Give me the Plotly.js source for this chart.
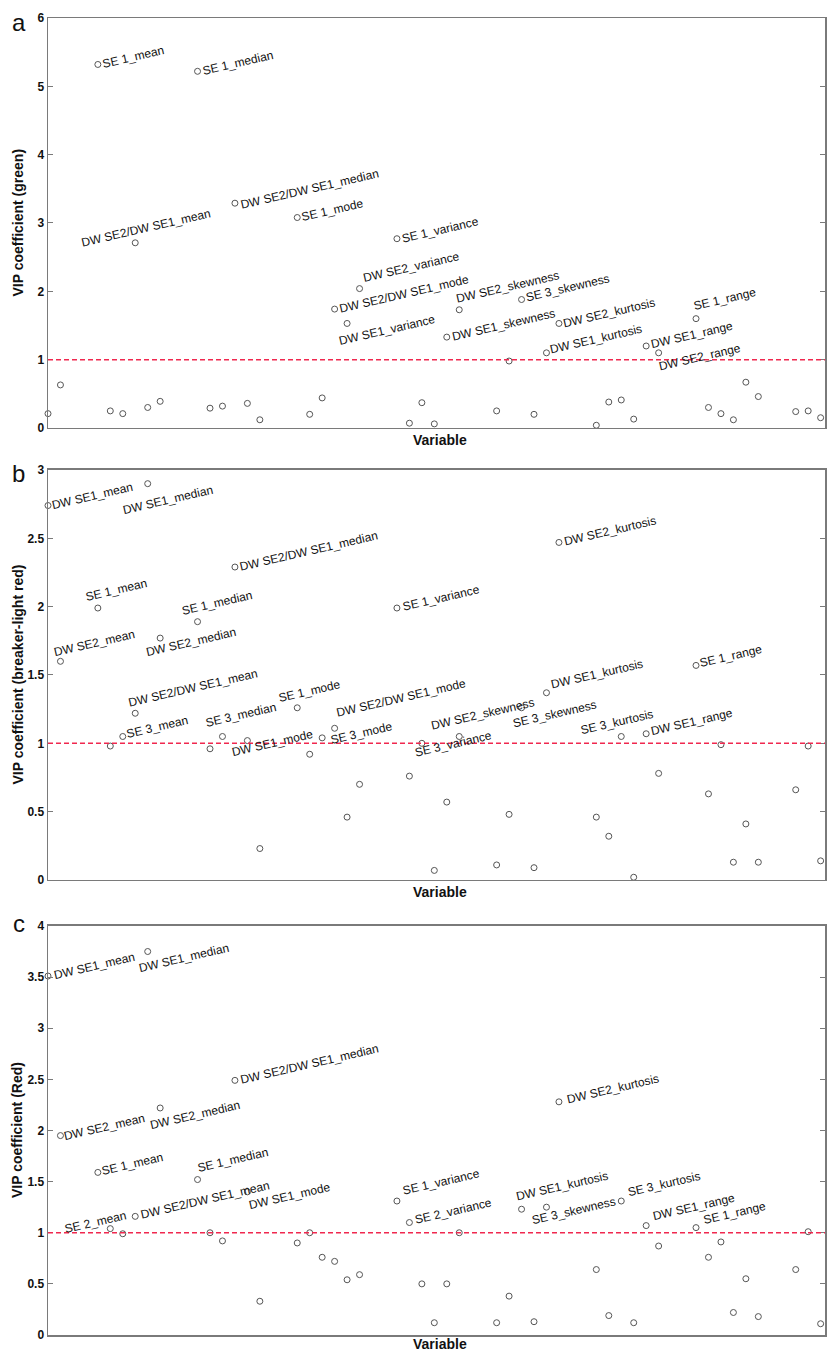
<!DOCTYPE html>
<html><head><meta charset="utf-8">
<script src="https://cdn.plot.ly/plotly-3.0.1.min.js"></script>
<style>html,body{margin:0;padding:0;background:#fff}#chart{width:827px;height:1353px}</style>
</head><body><div id="chart"></div>
<script>
// ---------------- DATA ----------------
const variableIndex = [1,2,3,4,5,6,7,8,9,10,11,12,13,14,15,16,17,18,19,20,21,22,23,24,25,26,27,28,29,30,31,32,
  33,34,35,36,37,38,39,40,41,42,43,44,45,46,47,48,49,50,51,52,53,54,55,56,57,58,59,60,61,62,63];

const vipGreen = [0.21,0.63,null,null,5.32,0.25,0.21,2.71, 0.30,0.39,null,null,5.22,0.29,0.32,3.29,
  0.36,0.12,null,null,3.08,0.20,0.44,1.74, 1.53,2.04,null,null,2.77,0.07,0.37,0.06,
  1.33,1.73,null,null,0.25,0.98,1.88,0.20, 1.10,1.53,null,null,0.04,0.38,0.41,0.13,
  1.20,1.10,null,null,1.60,0.30,0.21,0.12, 0.67,0.46,null,null,0.24,0.25,0.15];

const vipBreaker = [2.74,1.60,null,null,1.99,0.98,1.05,1.22, 2.90,1.77,null,null,1.89,0.96,1.05,2.29,
  1.02,0.23,null,null,1.26,0.92,1.04,1.11, 0.46,0.70,null,null,1.99,0.76,1.00,0.07,
  0.57,1.05,null,null,0.11,0.48,1.26,0.09, 1.37,2.47,null,null,0.46,0.32,1.05,0.02,
  1.07,0.78,null,null,1.57,0.63,0.99,0.13, 0.41,0.13,null,null,0.66,0.98,0.14];

const vipRed = [3.51,1.95,null,null,1.59,1.04,0.99,1.16, 3.75,2.22,null,null,1.52,1.00,0.92,2.49,
  1.40,0.33,null,null,0.90,1.00,0.76,0.72, 0.54,0.59,null,null,1.31,1.10,0.50,0.12,
  0.50,1.00,null,null,0.12,0.38,1.23,0.13, 1.25,2.28,null,null,0.64,0.19,1.31,0.12,
  1.07,0.87,null,null,1.05,0.76,0.91,0.22, 0.55,0.18,null,null,0.64,1.01,0.11];

const vipThreshold = 1;

const yTitles = ['VIP coefficient (green)', 'VIP coefficient (breaker-light red)', 'VIP coefficient (Red)'];
const panelLetters = ['a', 'b', 'c'];
const xTitle = 'Variable';

const labelIdxA = [5,13,16,21,8,29,26,24,25,34,39,33,42,41,53,49,50];
const labelTextA = ['SE 1_mean','SE 1_median','DW SE2/DW SE1_median','SE 1_mode','DW SE2/DW SE1_mean',
  'SE 1_variance','DW SE2_variance','DW SE2/DW SE1_mode','DW SE1_variance','DW SE2_skewness',
  'SE 3_skewness','DW SE1_skewness','DW SE2_kurtosis','DW SE1_kurtosis','SE 1_range','DW SE1_range','DW SE2_range'];

const labelIdxB = [1,9,5,13,2,10,16,29,42,53,8,7,15,21,17,24,23,34,31,39,41,47,49];
const labelTextB = ['DW SE1_mean','DW SE1_median','SE 1_mean','SE 1_median','DW SE2_mean','DW SE2_median',
  'DW SE2/DW SE1_median','SE 1_variance','DW SE2_kurtosis','SE 1_range','DW SE2/DW SE1_mean','SE 3_mean',
  'SE 3_median','SE 1_mode','DW SE1_mode','DW SE2/DW SE1_mode','SE 3_mode','DW SE2_skewness','SE 3_variance',
  'SE 3_skewness','DW SE1_kurtosis','SE 3_kurtosis','DW SE1_range'];

const labelIdxC = [1,9,16,10,2,5,13,8,6,17,29,30,41,39,47,49,53,42];
const labelTextC = ['DW SE1_mean','DW SE1_median','DW SE2/DW SE1_median','DW SE2_median','DW SE2_mean',
  'SE 1_mean','SE 1_median','DW SE2/DW SE1_mean','SE 2_mean','DW SE1_mode','SE 1_variance','SE 2_variance',
  'DW SE1_kurtosis','SE 3_skewness','SE 3_kurtosis','DW SE1_range','SE 1_range','DW SE2_kurtosis'];

// ---------------- LABEL PLACEMENT (pixel offsets of text start from its marker) ----------------
const labelOffsetA = [[5,0],[5,0],[6,2],[5,0],[-54,0],[5,0],[4,-11],[5,0],[-8,18],[-3,-11],
  [4,-2],[5,0],[4,0],[4,-3],[-2,-13],[5,-2],[1,14]];
const labelOffsetB = [[4,0],[-25,27],[-12,-11],[-16,-11],[-6,-9],[-14,14],[5,0],[6,-1],[5,-1],[4,-2],
  [-7,-10],[4,-2],[-17,-13],[-18,-10],[-15,12],[2,-15],[9,2],[-28,-11],[-7,9],[-9,16],[5,-8],[-40,-6],[5,-2]];
const labelOffsetC = [[6,-1],[-9,17],[6,0],[-10,17],[4,1],[4,-1],[0,-11],[5,-2],[-45,0],[2,13],
  [6,-10],[6,-3],[-30,-11],[10,11],[7,-9],[7,-9],[8,-7],[8,-2]];

// ---------------- STYLE ----------------
const FONT = 'Liberation Sans, Arial, Helvetica, sans-serif';
const LABEL_SIZE = 12;
const ANGLE = 13; // degrees, text rising to the right
const AXIS_COLOR = '#7a7a7a';

const ctx = document.createElement('canvas').getContext('2d');
ctx.font = LABEL_SIZE + 'px "Liberation Sans"';
const th = ANGLE * Math.PI / 180;

const panels = [
  {vals: vipGreen, ids: labelIdxA, txt: labelTextA, off: labelOffsetA, range: [0, 6], dtick: 1, dom: [0.6887, 1], xt: -12},
  {vals: vipBreaker, ids: labelIdxB, txt: labelTextB, off: labelOffsetB, range: [0, 3], dtick: 0.5, dom: [0.3455, 0.6568], xt: -12},
  {vals: vipRed, ids: labelIdxC, txt: labelTextC, off: labelOffsetC, range: [0, 4], dtick: 0.5, dom: [0, 0.3106], xt: -9}
];

const data = [];
const annotations = [];
const shapes = [];
const layout = {
  width: 827, height: 1353,
  margin: {l: 48, r: 2, t: 18, b: 18},
  paper_bgcolor: '#fff', plot_bgcolor: '#fff',
  showlegend: false,
  font: {family: FONT, color: '#111', size: 12},
  annotations: annotations, shapes: shapes
};

panels.forEach((p, i) => {
  const sfx = i === 0 ? '' : String(i + 1);
  const xa = 'x' + sfx, ya = 'y' + sfx;
  data.push({
    type: 'scatter', mode: 'markers', x: variableIndex, y: p.vals,
    xaxis: xa, yaxis: ya, cliponaxis: false, hoverinfo: 'x+y',
    marker: {symbol: 'circle-open', size: 6, color: '#555', line: {width: 1, color: '#555'}}
  });
  layout['xaxis' + sfx] = {
    domain: [0, 1], anchor: ya, range: [1, 63.35], showticklabels: false, ticks: '',
    showgrid: false, zeroline: false, showline: true, linecolor: AXIS_COLOR, linewidth: 1.5, mirror: true
  };
  layout['yaxis' + sfx] = {
    domain: p.dom, anchor: xa, range: p.range, dtick: p.dtick, tick0: 0,
    ticks: 'inside', ticklen: 5, tickwidth: 1, tickcolor: AXIS_COLOR,
    showgrid: false, zeroline: false, showline: true, linecolor: AXIS_COLOR, linewidth: 1.5, mirror: 'ticks',
    tickfont: {family: FONT, size: 12, color: '#111', weight: 'bold'}
  };
  shapes.push({type: 'line', xref: xa + ' domain', yref: ya, x0: 0, x1: 1, y0: vipThreshold, y1: vipThreshold,
    line: {color: '#f0284f', width: 1.5, dash: '5px,3px'}});
  // point labels
  p.ids.forEach((id, k) => {
    const t = p.txt[k];
    const w = ctx.measureText(t).width;
    const dx = p.off[k][0], dy = p.off[k][1];
    annotations.push({
      xref: xa, yref: ya, x: id, y: p.vals[id - 1], text: t, showarrow: false,
      xanchor: 'center', yanchor: 'middle', textangle: -ANGLE,
      xshift: dx + (w / 2) * Math.cos(th), yshift: (w / 2) * Math.sin(th) - dy,
      font: {family: FONT, size: LABEL_SIZE, color: '#111'}
    });
  });
  // y title
  annotations.push({xref: 'paper', yref: ya + ' domain', x: 0, y: 0.5, xanchor: 'center', yanchor: 'middle',
    xshift: -30.5, textangle: -90, text: yTitles[i], showarrow: false,
    font: {family: FONT, size: 14, color: '#111', weight: 'bold'}});
  // x title
  annotations.push({xref: 'paper', yref: ya + ' domain', x: 0.5, y: 0, xanchor: 'center', yanchor: 'middle',
    xshift: 3.5, yshift: p.xt, text: xTitle, showarrow: false,
    font: {family: FONT, size: 14, color: '#111', weight: 'bold'}});
  // panel letter
  annotations.push({xref: 'paper', yref: ya + ' domain', x: 0, y: 1, xanchor: 'center', yanchor: 'middle',
    xshift: -29.5, yshift: i === 2 ? 2 : -4, text: panelLetters[i], showarrow: false,
    font: {family: FONT, size: 24, color: '#111'}});
});

Plotly.newPlot('chart', data, layout, {staticPlot: true, displayModeBar: false});
</script>
</body></html>
